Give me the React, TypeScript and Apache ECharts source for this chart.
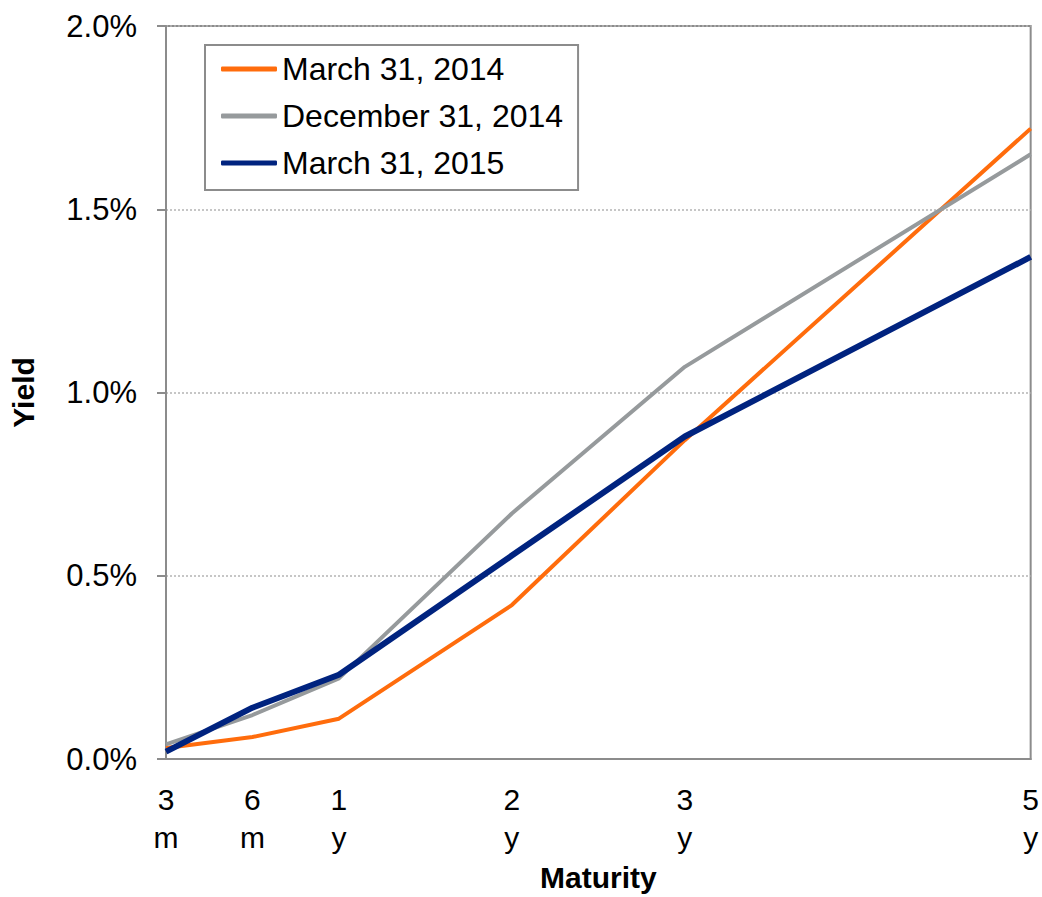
import React, { useEffect, useRef } from "react";
import * as echarts from "echarts";

const maturityPositions = [0, 0.5, 1, 2, 3, 5];
const maturityLabels = ["3\nm", "6\nm", "1\ny", "2\ny", "3\ny", "5\ny"];
const seriesNames = ["March 31, 2014", "December 31, 2014", "March 31, 2015"];
const mar2014 = [0.03, 0.06, 0.11, 0.42, 0.87, 1.72];
const dec2014 = [0.04, 0.12, 0.22, 0.67, 1.07, 1.65];
const mar2015 = [0.02, 0.14, 0.23, 0.555, 0.88, 1.37];
const yTicks = [0, 0.5, 1, 1.5, 2];

const FONT = "'Liberation Sans', Arial, sans-serif";
const FS = 31;

export default function App() {
  const ref = useRef<HTMLDivElement>(null);
  useEffect(() => {
    if (!ref.current) return;
    const chart = echarts.init(ref.current, undefined, { renderer: "svg" });
    const pair = (vals: number[]) => maturityPositions.map((x, i) => [x, vals[i]]);
    const colors = ["#ff6c0c", "#969a9c", "#00237f"];
    const widths = [4, 4, 6];
    const all = [mar2014, dec2014, mar2015];
    chart.setOption({
      animation: false,
      textStyle: { fontFamily: FONT },
      grid: {
        left: 166,
        right: 8,
        top: 26,
        bottom: 137,
        show: true,
        borderColor: "#8c8c8c",
        borderWidth: 2,
      },
      legend: {
        orient: "vertical",
        left: 205,
        top: 45,
        padding: [8, 15, 11, 16],
        borderColor: "#8c8c8c",
        borderWidth: 2,
        itemWidth: 56,
        itemHeight: 5,
        itemGap: 15,
        icon: "roundRect",
        data: seriesNames,
        textStyle: { fontSize: 32, color: "#000", fontFamily: FONT, lineHeight: 30 },
      },
      xAxis: {
        type: "value",
        min: 0,
        max: 5,
        name: "Maturity",
        nameLocation: "middle",
        nameGap: 103,
        nameTextStyle: { fontSize: FS - 1, fontWeight: "bold", color: "#000", fontFamily: FONT },
        axisLine: { show: true, lineStyle: { color: "#8c8c8c", width: 2 } },
        axisTick: { show: false },
        splitLine: { show: false },
        axisLabel: {
          customValues: maturityPositions,
          formatter: (v: number) => {
            const i = maturityPositions.indexOf(v);
            return i >= 0 ? maturityLabels[i] : "";
          },
          fontSize: FS - 1,
          lineHeight: 38,
          color: "#000",
          margin: 21,
          fontFamily: FONT,
        },
      },
      yAxis: {
        type: "value",
        min: 0,
        max: 2,
        interval: 0.5,
        name: "Yield",
        nameLocation: "middle",
        nameGap: 128,
        nameTextStyle: { fontSize: FS - 1, fontWeight: "bold", color: "#000", fontFamily: FONT },
        axisLine: { show: true, lineStyle: { color: "#8c8c8c", width: 2 } },
        axisTick: { show: true, length: 9, lineStyle: { color: "#8c8c8c", width: 2 }, customValues: yTicks },
        splitLine: { show: true, lineStyle: { color: "#b4b4b4", width: 1.5, type: [2, 2] } },
        axisLabel: {
          formatter: (v: number) => v.toFixed(1) + "%",
          fontSize: FS,
          color: "#000",
          margin: 29,
          fontFamily: FONT,
        },
      },
      series: all.map((vals, i) => ({
        type: "line",
        name: seriesNames[i],
        data: pair(vals),
        symbol: "none",
        color: colors[i],
        lineStyle: { color: colors[i], width: widths[i] },
        z: 2 + i,
      })),
    });
    return () => chart.dispose();
  }, []);
  return (
    <div
      ref={ref}
      style={{ position: "fixed", left: 0, top: 0, width: 1042, height: 897, background: "#fff" }}
    />
  );
}
